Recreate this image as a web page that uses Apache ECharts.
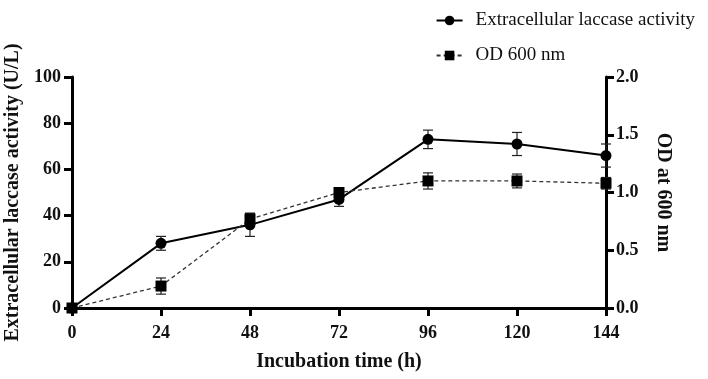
<!DOCTYPE html>
<html>
<head>
<meta charset="utf-8">
<script src="https://cdn.jsdelivr.net/npm/echarts@6/dist/echarts.min.js"></script>
<style>
  html, body { margin: 0; padding: 0; background: #fff; }
  #main { width: 708px; height: 379px; }
</style>
</head>
<body>
<div id="main"></div>
<script>
// data
var hours = [0, 24, 48, 72, 96, 120, 144];
var laccase = [0, 28, 36, 47, 73, 71, 66];
var laccaseErr = [0, 3, 5, 3, 4, 5, 5];
var od = [0, 0.19, 0.77, 1.0, 1.1, 1.1, 1.08];
var odErr = [0, 0.07, 0.05, 0.04, 0.07, 0.06, 0.05];
var leftTicks = [0, 20, 40, 60, 80, 100];
var rightTicks = [0, 0.5, 1.0, 1.5, 2.0];

var chart = echarts.init(document.getElementById('main'));
var font = 'Liberation Serif, Times New Roman, serif';

function pairs(ys) {
  return hours.map(function (h, i) { return [h, ys[i]]; });
}
function errData(ys, es) {
  return hours.map(function (h, i) { return [h, ys[i] - es[i], ys[i] + es[i]]; });
}
// 误差线
function renderErr(params, api) {
  var lo = api.coord([api.value(0), api.value(1)]);
  var hi = api.coord([api.value(0), api.value(2)]);
  var w = 5;
  var st = { stroke: '#222', lineWidth: 1.2 };
  return {
    type: 'group',
    children: [
      { type: 'line', shape: { x1: lo[0], y1: lo[1], x2: hi[0], y2: hi[1] }, style: st },
      { type: 'line', shape: { x1: lo[0] - w, y1: lo[1], x2: lo[0] + w, y2: lo[1] }, style: st },
      { type: 'line', shape: { x1: hi[0] - w, y1: hi[1], x2: hi[0] + w, y2: hi[1] }, style: st }
    ]
  };
}

var axisLine = { show: true, lineStyle: { color: '#000', width: 3 } };
var axisTick = { show: true, length: 8, lineStyle: { color: '#000', width: 3 } };
var tickLabel = { color: '#111', fontFamily: font, fontWeight: 'bold', fontSize: 18 };
var nameStyle = { color: '#111', fontFamily: font, fontWeight: 'bold', fontSize: 20 };

var option = {
  backgroundColor: '#ffffff',
  animation: false,
  grid: { left: 72, right: 102, top: 77, bottom: 71, outerBoundsMode: 'none', containLabel: false },
  legend: {
    orient: 'vertical',
    right: 8,
    top: 6,
    itemGap: 16,
    itemWidth: 26,
    itemHeight: 12,
    textStyle: { color: '#111', fontFamily: font, fontSize: 19, padding: [0, 0, 0, 8] },
    data: ['Extracellular laccase activity', 'OD 600 nm']
  },
  xAxis: {
    type: 'value',
    min: 0,
    max: 144,
    interval: 24,
    name: 'Incubation time (h)',
    nameLocation: 'middle',
    nameGap: 44,
    nameTextStyle: nameStyle,
    axisLine: axisLine,
    axisTick: axisTick,
    axisLabel: Object.assign({ margin: 16 }, tickLabel),
    splitLine: { show: false }
  },
  yAxis: [{
    type: 'value',
    min: leftTicks[0],
    max: leftTicks[leftTicks.length - 1],
    interval: 20,
    name: 'Extracellular laccase activity (U/L)',
    nameLocation: 'middle',
    nameRotate: 90,
    nameGap: 47,
    nameTextStyle: nameStyle,
    axisLine: axisLine,
    axisTick: axisTick,
    axisLabel: Object.assign({ margin: 11 }, tickLabel),
    splitLine: { show: false }
  }, {
    type: 'value',
    position: 'right',
    min: rightTicks[0],
    max: rightTicks[rightTicks.length - 1],
    interval: 0.5,
    name: 'OD at 600 nm',
    nameLocation: 'middle',
    nameRotate: -90,
    nameGap: 47,
    nameTextStyle: nameStyle,
    axisLine: axisLine,
    axisTick: axisTick,
    axisLabel: Object.assign({ margin: 10 }, tickLabel, { formatter: function (v) { return v.toFixed(1); } }),
    splitLine: { show: false }
  }],
  series: [{
    name: 'Extracellular laccase activity',
    type: 'line',
    yAxisIndex: 0,
    data: pairs(laccase),
    symbol: 'circle',
    symbolSize: 11,
    itemStyle: { color: '#000' },
    lineStyle: { color: '#000', width: 2 },
    z: 4
  }, {
    name: 'OD 600 nm',
    type: 'line',
    yAxisIndex: 1,
    data: pairs(od),
    symbol: 'rect',
    symbolSize: 11,
    itemStyle: { color: '#000' },
    lineStyle: { color: '#333', width: 1.3, type: [4, 3] },
    z: 4
  }, {
    type: 'custom',
    yAxisIndex: 0,
    data: errData(laccase, laccaseErr),
    renderItem: renderErr,
    z: 3
  }, {
    type: 'custom',
    yAxisIndex: 1,
    data: errData(od, odErr),
    renderItem: renderErr,
    z: 3
  }]
};

chart.setOption(option);
</script>
</body>
</html>
